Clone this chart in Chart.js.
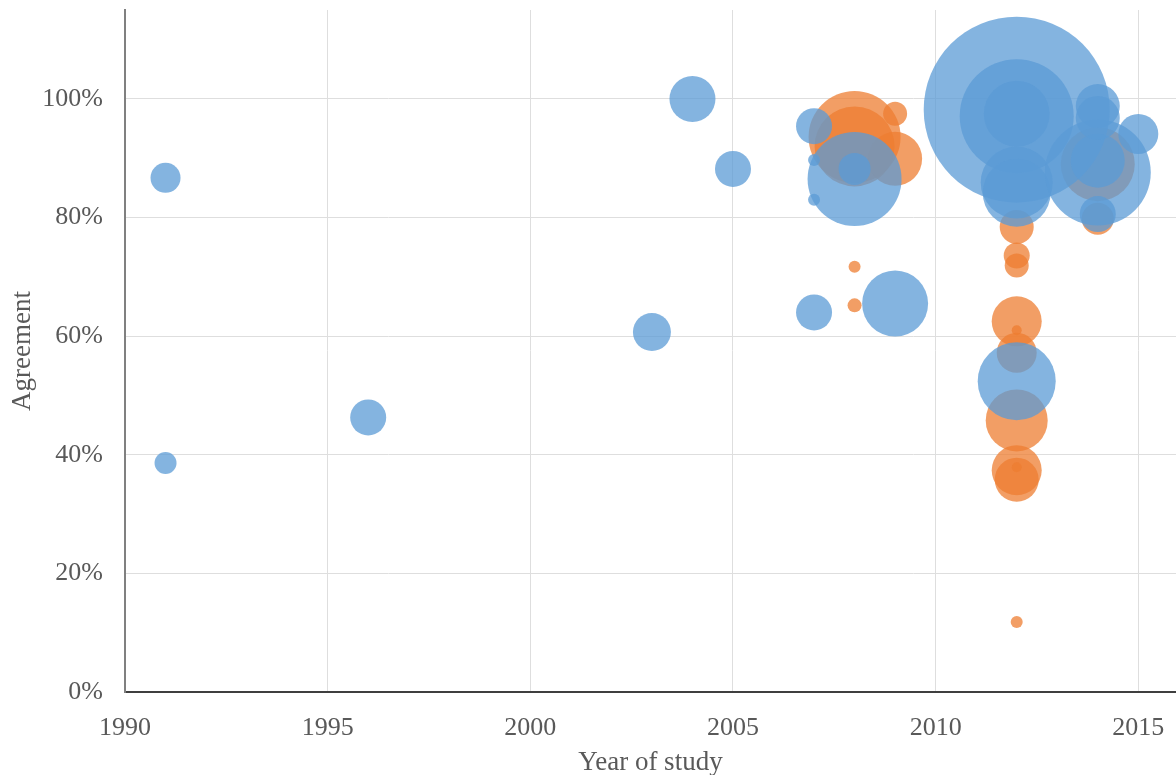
<!DOCTYPE html>
<html>
<head>
<meta charset="utf-8">
<title>Agreement by year of study</title>
<script src="https://cdn.jsdelivr.net/npm/chart.js@4.4.0/dist/chart.umd.min.js"></script>
<style>
  html, body { margin: 0; padding: 0; background: #fff; }
  #wrap { width: 1176px; height: 775px; }
</style>
</head>
<body>
<div id="wrap"><canvas id="chart" width="1176" height="775"></canvas></div>
<script>
// blue series: year, agreement (%), bubble size
const blueYear  = [1991, 1991, 1996, 2003, 2004, 2005, 2007, 2007, 2007, 2007, 2008, 2008, 2009,
                   2012, 2012, 2012, 2012, 2012, 2012, 2014, 2014, 2014, 2014, 2014, 2015];
const blueAgree = [86.7, 38.6, 46.3, 60.7, 100, 88.2, 95.4, 89.7, 83.0, 64.0, 86.5, 88.2, 65.5,
                   98.2, 97.1, 97.5, 85.9, 84.2, 52.4, 87.6, 89.6, 98.8, 96.8, 80.6, 94.1];
const blueSize  = [15, 11, 18, 19, 23, 18, 18, 6, 6, 18, 47, 16, 33,
                   93, 57, 33, 36, 34, 39, 53, 27, 22, 22, 18, 20];

// orange series
const orangeYear  = [2008, 2008, 2008, 2008, 2009, 2009, 2012, 2012, 2012, 2012, 2012, 2012,
                     2012, 2012, 2012, 2012, 2012, 2014, 2014];
const orangeAgree = [93.6, 92.0, 71.7, 65.2, 89.9, 97.5, 78.4, 73.6, 71.9, 62.5, 61.0, 57.2,
                     45.8, 37.4, 35.8, 37.9, 11.8, 89.0, 79.8];
const orangeSize  = [46, 40, 6, 7, 27, 12, 17, 13, 12, 25, 5, 20,
                     31, 25, 22, 5, 6, 37, 16];

const yearTicks = [1990, 1995, 2000, 2005, 2010, 2015];
const agreeTicks = [0, 20, 40, 60, 80, 100];

function points(xs, ys, rs) {
  return xs.map((x, i) => ({ x: x, y: ys[i], r: rs[i] }));
}

// big bubbles would otherwise push the plot area inwards
const Bubble = Chart.BubbleController || Chart.registry.getController("bubble");
Bubble.prototype.getMaxOverflow = function () { return 0; };

const textColor = "#595959";
const gridColor = "#dedede";

new Chart(document.getElementById("chart"), {
  type: "bubble",
  data: {
    datasets: [
      {
        label: "Blue",
        data: points(blueYear, blueAgree, blueSize),
        backgroundColor: "rgba(91, 155, 213, 0.75)",
        borderWidth: 0,
      },
      {
        label: "Orange",
        data: points(orangeYear, orangeAgree, orangeSize),
        backgroundColor: "rgba(237, 125, 49, 0.75)",
        borderWidth: 0,
      },
    ],
  },
  options: {
    responsive: false,
    animation: false,
    layout: { padding: { top: 10, right: 0, left: 0, bottom: 0 } },
    plugins: { legend: { display: false }, tooltip: { enabled: false } },
    scales: {
      x: {
        type: "linear",
        min: 1990,
        max: 2015.93, // picture is cut just short of 2016
        afterBuildTicks: (scale) => {
          scale.ticks = yearTicks.map((v) => ({ value: v }));
        },
        afterFit: (scale) => {
          scale.height = 83;
          scale.paddingLeft = 0;
          scale.paddingRight = 0;
        },
        grid: { color: gridColor, lineWidth: 1, drawTicks: false },
        border: { color: "#3f3f3f", width: 2 },
        ticks: {
          padding: 21,
          color: textColor,
          font: { family: "'Liberation Serif', serif", size: 26 },
          maxRotation: 0,
          callback: (v) => String(v),
        },
        title: {
          display: true,
          text: "Year of study",
          color: textColor,
          font: { family: "'Liberation Serif', serif", size: 27 },
          padding: { top: 0, bottom: -4 },
        },
      },
      y: {
        min: 0,
        max: 115,
        afterBuildTicks: (scale) => {
          scale.ticks = agreeTicks.map((v) => ({ value: v }));
        },
        afterFit: (scale) => {
          scale.width = 125;
          scale.paddingTop = 0;
          scale.paddingBottom = 0;
        },
        grid: { color: gridColor, lineWidth: 1, drawTicks: false },
        border: { color: "#808080", width: 2 },
        ticks: {
          padding: 22,
          color: textColor,
          font: { family: "'Liberation Serif', serif", size: 26 },
          callback: (v) => v + "%",
        },
        title: {
          display: true,
          text: "Agreement",
          color: textColor,
          font: { family: "'Liberation Serif', serif", size: 27 },
          padding: { top: 7, bottom: 0 },
        },
      },
    },
  },
});
</script>
</body>
</html>
